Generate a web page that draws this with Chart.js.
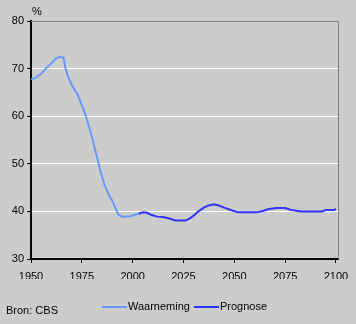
<!DOCTYPE html>
<html>
<head>
<meta charset="utf-8">
<script src="https://cdn.jsdelivr.net/npm/chart.js@4.4.1/dist/chart.umd.min.js"></script>
<style>
  html, body { margin: 0; padding: 0; background: #cccccc; }
  #wrap { width: 356px; height: 324px; }
</style>
</head>
<body>
<div id="wrap"><canvas id="grafiek"></canvas></div>
<script>
// Waarneming (historisch)
const waarnemingJaren = [1950, 1952, 1955, 1957, 1960, 1962, 1964, 1966, 1967, 1968, 1970, 1971, 1973, 1974, 1976, 1977, 1978, 1980, 1981, 1982, 1983, 1984, 1985, 1986, 1988, 1990, 1991, 1993, 1995, 1999, 2001, 2003];
const waarnemingWaarden = [67.8, 68.0, 68.9, 69.9, 71.1, 72.0, 72.5, 72.3, 70.0, 68.5, 66.6, 65.9, 64.5, 63.4, 61.3, 60.0, 58.6, 55.6, 53.8, 52.2, 50.5, 48.7, 47.2, 45.8, 43.7, 42.2, 41.2, 39.3, 38.9, 39.0, 39.3, 39.5];

// Prognose
const prognoseJaren = [2003, 2005, 2007, 2009, 2012, 2015, 2018, 2021, 2026, 2028, 2030, 2032, 2035, 2037, 2040, 2042, 2045, 2049, 2052, 2061, 2064, 2067, 2071, 2075, 2078, 2083, 2093, 2095, 2099, 2100];
const prognoseWaarden = [39.5, 39.8, 39.7, 39.3, 38.9, 38.8, 38.5, 38.1, 38.1, 38.5, 39.1, 39.9, 40.8, 41.2, 41.5, 41.3, 40.8, 40.2, 39.8, 39.8, 40.1, 40.5, 40.7, 40.7, 40.3, 40.0, 40.0, 40.3, 40.3, 40.5];

const xTicks = [1950, 1975, 2000, 2025, 2050, 2075, 2100];
const yTicks = [30, 40, 50, 60, 70, 80];

const kleurWaarneming = '#6699ff';
const kleurPrognose = '#3333ff';
const lettertype = '11px "Liberation Sans", Arial, sans-serif';

function punten(jaren, waarden) {
  return jaren.map((j, i) => ({ x: j, y: waarden[i] }));
}

// Kader, legenda en losse teksten
const extraTekst = {
  id: 'extraTekst',
  beforeDatasetsDraw(chart) {
    const ctx = chart.ctx;
    const a = chart.chartArea;
    ctx.save();
    ctx.strokeStyle = '#808080';
    ctx.lineWidth = 1;
    ctx.beginPath();
    ctx.moveTo(a.left, a.top + 0.5);
    ctx.lineTo(a.right + 0.5, a.top + 0.5);
    ctx.lineTo(a.right + 0.5, a.bottom);
    ctx.stroke();
    ctx.restore();
  },
  afterDraw(chart) {
    const ctx = chart.ctx;
    ctx.save();
    ctx.font = lettertype;
    ctx.fillStyle = '#000000';
    ctx.textBaseline = 'middle';
    ctx.textAlign = 'left';
    ctx.fillText('%', 32, 12);
    ctx.fillText('Bron: CBS', 6, 311);

    const items = [
      { tekst: 'Waarneming', kleur: kleurWaarneming, x: 102 },
      { tekst: 'Prognose', kleur: kleurPrognose, x: 194 }
    ];
    items.forEach(it => {
      ctx.strokeStyle = it.kleur;
      ctx.lineWidth = 2;
      ctx.beginPath();
      ctx.moveTo(it.x, 307);
      ctx.lineTo(it.x + 25, 307);
      ctx.stroke();
      ctx.fillText(it.tekst, it.x + 26, 307);
    });
    ctx.restore();
  }
};

const ctx = document.getElementById('grafiek').getContext('2d');
new Chart(ctx, {
  type: 'line',
  data: {
    datasets: [
      {
        label: 'Waarneming',
        data: punten(waarnemingJaren, waarnemingWaarden),
        borderColor: kleurWaarneming,
        borderWidth: 2,
        pointRadius: 0,
        tension: 0
      },
      {
        label: 'Prognose',
        data: punten(prognoseJaren, prognoseWaarden),
        borderColor: kleurPrognose,
        borderWidth: 2,
        pointRadius: 0,
        tension: 0
      }
    ]
  },
  options: {
    responsive: true,
    maintainAspectRatio: false,
    animation: false,
    layout: { padding: { top: 21, right: 18, bottom: 45, left: 0 } },
    plugins: {
      legend: { display: false },
      tooltip: { enabled: false }
    },
    scales: {
      x: {
        type: 'linear',
        min: 1950,
        max: 2101,
        afterBuildTicks: scale => { scale.ticks = xTicks.map(v => ({ value: v })); },
        afterFit: scale => { scale.height = 20; },
        grid: {
          drawOnChartArea: false,
          drawTicks: true,
          tickLength: 4,
          tickColor: '#000000'
        },
        border: { color: '#000000', width: 2 },
        ticks: {
          color: '#000000',
          font: { family: '"Liberation Sans", Arial, sans-serif', size: 11 },
          padding: 7,
          maxRotation: 0,
          callback: v => String(v)
        }
      },
      y: {
        min: 30,
        max: 80,
        afterBuildTicks: scale => { scale.ticks = yTicks.map(v => ({ value: v })); },
        afterFit: scale => { scale.width = 31; },
        grid: {
          color: c => (c.tick && c.tick.value === 80 ? '#808080' : '#ffffff'),
          lineWidth: 1,
          drawTicks: true,
          tickLength: 4,
          tickColor: '#000000'
        },
        border: { color: '#000000', width: 2 },
        ticks: {
          color: '#000000',
          font: { family: '"Liberation Sans", Arial, sans-serif', size: 11 },
          padding: 3
        }
      }
    }
  },
  plugins: [extraTekst]
});
</script>
</body>
</html>
